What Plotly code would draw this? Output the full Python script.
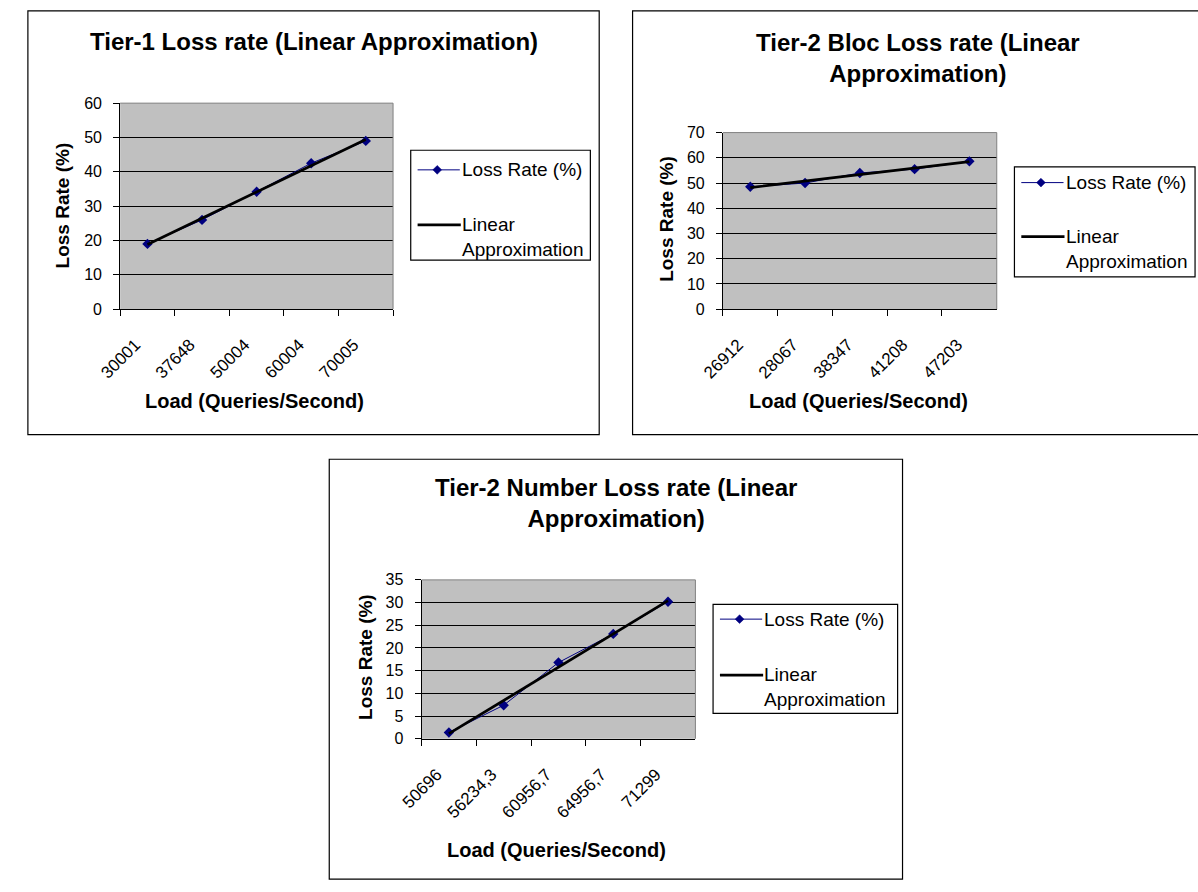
import numpy as np
import plotly.graph_objects as go

W, H = 1198, 892
FONT = "Liberation Sans, Arial, sans-serif"
NAVY = "#000080"
PLOT_BG = "#C0C0C0"

# Tier-1 loss rate
t1_loads = ["30001", "37648", "50004", "60004", "70005"]
t1_loss = [19, 26, 34.2, 42.5, 49]

# Tier-2 bloc loss rate
t2b_loads = ["26912", "28067", "38347", "41208", "47203"]
t2b_loss = [48.5, 50, 54, 55.5, 58.6]

# Tier-2 number loss rate
t2n_loads = ["50696", "56234,3", "60956,7", "64956,7", "71299"]
t2n_loss = [1.4, 7.4, 16.8, 23.1, 30.2]

series_name = "Loss Rate (%)"
trend_name = "Linear<br>Approximation"
x_title = "Load (Queries/Second)"
y_title = "Loss Rate (%)"


def fx(p):
    return p / W


def fy(p):
    return 1 - p / H


panels = [
    dict(title="Tier-1 Loss rate (Linear Approximation)",
         cats=t1_loads, vals=t1_loss, yrange=[0, 60], dtick=10,
         plot=(100, 97, 378, 307), frame=(6, 3, 588, 435),
         legend=(396, 145, 579, 257), rows=(165, 221, 246),
         title_xy=(297, 34), ytitle_xy=(41, 201), xtitle_xy=(237, 401)),
    dict(title="Tier-2 Bloc Loss rate (Linear<br>Approximation)",
         cats=t2b_loads, vals=t2b_loss, yrange=[0, 70], dtick=10,
         plot=(714, 127, 993, 307), frame=(622, 3, 1210, 435),
         legend=(1011, 162, 1195, 274), rows=(178, 233, 258),
         title_xy=(913, 51), ytitle_xy=(657, 215), xtitle_xy=(852, 401)),
    dict(title="Tier-2 Number Loss rate (Linear<br>Approximation)",
         cats=t2n_loads, vals=t2n_loss, yrange=[0, 35], dtick=5,
         plot=(407, 583, 686, 745), frame=(313, 460, 897, 888),
         legend=(704, 608, 892, 719), rows=(623, 680, 705),
         title_xy=(605, 505), ytitle_xy=(350, 662), xtitle_xy=(545, 858)),
]

fig = go.Figure()
layout = dict(
    width=W, height=H, margin=dict(l=0, r=0, t=0, b=0),
    paper_bgcolor="white", plot_bgcolor=PLOT_BG,
    showlegend=False, font=dict(family=FONT, color="black"),
)
shapes = []
annotations = []

for i, p in enumerate(panels, start=1):
    sfx = "" if i == 1 else str(i)
    xa, ya = "x" + sfx, "y" + sfx
    idx = np.arange(1, len(p["vals"]) + 1)
    slope, icpt = np.polyfit(idx, p["vals"], 1)
    trend = slope * idx + icpt

    fig.add_trace(go.Scatter(
        x=p["cats"], y=p["vals"], mode="lines+markers", name=series_name,
        line=dict(color=NAVY, width=1),
        marker=dict(symbol="diamond", size=8, color=NAVY),
        xaxis=xa, yaxis=ya))
    fig.add_trace(go.Scatter(
        x=p["cats"], y=trend, mode="lines", name="Linear Approximation",
        line=dict(color="black", width=2.7),
        xaxis=xa, yaxis=ya))

    l, t, r, b = p["plot"]
    layout["xaxis" + sfx] = dict(
        domain=[fx(l), fx(r)], anchor=ya, type="category",
        range=[-0.5, len(p["cats"]) - 0.5], tickson="boundaries",
        ticks="outside", ticklen=6, tickcolor="black",
        tickangle=-45, ticklabelstandoff=18, ticklabelshift=-12,
        tickfont=dict(family=FONT, size=17, color="black"),
        showline=True, linecolor="black", linewidth=1,
        showgrid=False, zeroline=False, fixedrange=True)
    layout["yaxis" + sfx] = dict(
        domain=[fy(b), fy(t)], anchor=xa, range=p["yrange"],
        dtick=p["dtick"], ticks="outside", ticklen=6, tickcolor="black",
        ticklabelstandoff=8,
        tickfont=dict(family=FONT, size=16, color="black"),
        showline=True, linecolor="black", linewidth=1,
        showgrid=True, gridcolor="black", gridwidth=1,
        zeroline=False, fixedrange=True)

    # grey outline on the top and right of the plot area
    for x0, y0, x1, y1 in ((0, 1, 1, 1), (1, 0, 1, 1)):
        shapes.append(dict(type="line", xref=xa + " domain", yref=ya + " domain",
                           x0=x0, y0=y0, x1=x1, y1=y1,
                           line=dict(color="#808080", width=1), layer="above"))

    # chart frame
    fl, ft, fr, fb = p["frame"]
    shapes.append(dict(type="rect", xref="paper", yref="paper",
                       x0=fx(fl), y0=fy(fb), x1=fx(fr), y1=fy(ft),
                       line=dict(color="black", width=1.2)))

    # legend box
    ll, lt, lr, lb = p["legend"]
    r1, r2, r3 = p["rows"]
    shapes.append(dict(type="rect", xref="paper", yref="paper",
                       x0=fx(ll), y0=fy(lb), x1=fx(lr), y1=fy(lt),
                       line=dict(color="black", width=1.2)))
    shapes.append(dict(type="line", xref="paper", yref="paper",
                       x0=fx(ll + 7), y0=fy(r1), x1=fx(ll + 50), y1=fy(r1),
                       line=dict(color=NAVY, width=1)))
    cx, cy, d = ll + 27, r1, 4.5
    shapes.append(dict(type="path", xref="paper", yref="paper",
                       path=(f"M{fx(cx - d)},{fy(cy)} L{fx(cx)},{fy(cy - d)} "
                             f"L{fx(cx + d)},{fy(cy)} L{fx(cx)},{fy(cy + d)} Z"),
                       fillcolor=NAVY, line=dict(color=NAVY, width=0.5)))
    shapes.append(dict(type="line", xref="paper", yref="paper",
                       x0=fx(ll + 7), y0=fy(r2), x1=fx(ll + 51), y1=fy(r2),
                       line=dict(color="black", width=2.7)))
    annotations.append(dict(text=series_name, x=fx(ll + 50), y=fy(r1),
                            xref="paper", yref="paper", xanchor="left",
                            yanchor="middle", showarrow=False,
                            font=dict(family=FONT, size=19, color="black")))
    annotations.append(dict(text=trend_name, x=fx(ll + 50), y=fy((r2 + r3) / 2),
                            xref="paper", yref="paper", xanchor="left",
                            yanchor="middle", align="left", showarrow=False,
                            font=dict(family=FONT, size=19, color="black")))

    # titles
    tx, ty = p["title_xy"]
    annotations.append(dict(text="<b>" + p["title"] + "</b>", x=fx(tx), y=fy(ty),
                            xref="paper", yref="paper", xanchor="center",
                            yanchor="middle", showarrow=False,
                            font=dict(family=FONT, size=24, color="black")))
    yx, yy = p["ytitle_xy"]
    annotations.append(dict(text="<b>" + y_title + "</b>", x=fx(yx), y=fy(yy),
                            xref="paper", yref="paper", xanchor="center",
                            yanchor="middle", textangle=-90, showarrow=False,
                            font=dict(family=FONT, size=19, color="black")))
    xx, xy = p["xtitle_xy"]
    annotations.append(dict(text="<b>" + x_title + "</b>", x=fx(xx), y=fy(xy),
                            xref="paper", yref="paper", xanchor="center",
                            yanchor="middle", showarrow=False,
                            font=dict(family=FONT, size=20, color="black")))

layout["shapes"] = shapes
layout["annotations"] = annotations
fig.update_layout(**layout)
fig.write_html("out.html", post_script="document.body.style.margin = '0';")
